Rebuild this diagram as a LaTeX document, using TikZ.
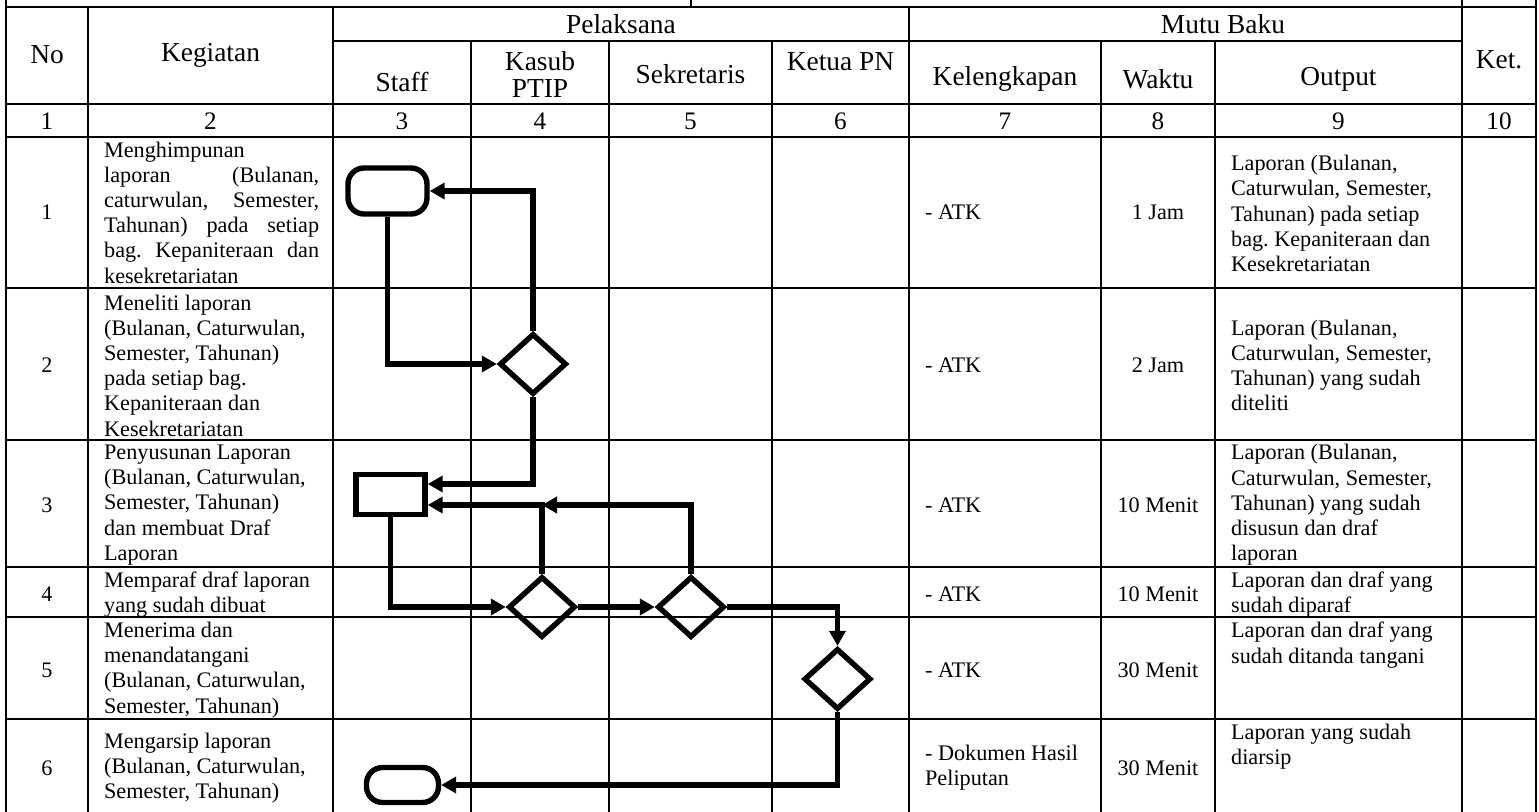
\documentclass[tikz,border=0pt]{standalone}
\usepackage{fontspec}
\setmainfont{Liberation Serif}
\usetikzlibrary{arrows.meta, positioning, shapes.geometric, calc}
\frenchspacing

\begin{document}
\begin{tikzpicture}[
    x=0.5pt, y=-0.5pt, line width=1.15pt,
    font=\fontsize{11.1pt}{12.6pt}\selectfont,
    hdr/.style={font=\fontsize{13.7pt}{13.5pt}\selectfont, align=center, inner sep=0pt},
    colnum/.style={font=\fontsize{12.6pt}{13pt}\selectfont, inner sep=0pt},
    txt/.style={anchor=west, align=left, inner sep=0pt},
    flow/.style={line width=2.7pt, -{Triangle[length=7.5pt,width=8pt]}},
    term/.style={draw, line width=2.7pt, rounded corners=8pt, inner sep=0pt},
    proc/.style={draw, line width=2.7pt, inner sep=0pt},
    dec/.style={draw, diamond, line width=2.7pt, inner sep=0pt,
                minimum width=33.5pt, minimum height=30.5pt}
]
\useasboundingbox (0,0) rectangle (1539,812);

% Grid lines
\draw (6,7) -- (1536,7);
\draw (333,41) -- (1462,41);
\foreach \y in {104,137,288,440,567,617,719}
   \draw (6,\y) -- (1536,\y);
\draw (691,0) -- (691,7);
\foreach \x in {6,1462,1536}
   \draw (\x,0) -- (\x,812);
\foreach \x in {88,333,909}
   \draw (\x,7) -- (\x,812);
\foreach \x in {471,609,772,1101,1215}
   \draw (\x,41) -- (\x,812);

% Column headers
\node[hdr] (hNo) at (47,55) {No};
\node[hdr] (hKeg) at (210.5,55) {Kegiatan};
\node[hdr] (hPel) at (621,24) {Pelaksana};
\node[hdr] (hMutu) at (1223,24) {Mutu Baku};
\foreach \x/\y/\n/\lbl in {402/82/Staff/Staff, 540/75/Kasub/{Kasub\\PTIP},
                          690.5/74/Sekr/Sekretaris, 840.5/62/Ketua/{Ketua PN},
                          1005/79/Kel/Kelengkapan, 1158/79/Wkt/Waktu,
                          1338.5/79/Out/Output, 1499/60/Ket/Ket.} {
   \node[hdr] (h\n) at (\x,\y) {\lbl};
}
% Column numbers
\foreach \i/\x in {1/47, 2/210.5, 3/402, 4/540, 5/690.5, 6/840.5,
                   7/1005, 8/1158, 9/1338.5, 10/1499} {
   \node[colnum] (n\i) at (\x,121) {\i};
}

% Rows
\foreach \i/\y/\yo/\keg/\kel/\wkt/\out in {
  1/212.5/213.5/{Menghimpunan\\
     \makebox[107.5pt][s]{laporan (Bulanan,}\\
     \makebox[107.5pt][s]{caturwulan, Semester,}\\
     \makebox[107.5pt][s]{Tahunan) pada setiap}\\
     \makebox[107.5pt][s]{bag. Kepaniteraan dan}\\
     kesekretariatan}/{- ATK}/{1 Jam}/{Laporan (Bulanan,\\Caturwulan, Semester,\\Tahunan) pada setiap\\bag. Kepaniteraan dan\\Kesekretariatan},
  2/365.5/365.5/{Meneliti laporan\\(Bulanan, Caturwulan,\\Semester, Tahunan)\\pada setiap bag.\\Kepaniteraan dan\\Kesekretariatan}/{- ATK}/{2 Jam}/{Laporan (Bulanan,\\Caturwulan, Semester,\\Tahunan) yang sudah\\diteliti},
  3/505/505/{Penyusunan Laporan\\(Bulanan, Caturwulan,\\Semester, Tahunan)\\dan membuat Draf\\Laporan}/{- ATK}/{10 Menit}/{Laporan (Bulanan,\\Caturwulan, Semester,\\Tahunan) yang sudah\\disusun dan draf\\laporan},
  4/594.5/594.5/{Memparaf draf laporan\\yang sudah dibuat}/{- ATK}/{10 Menit}/{Laporan dan draf yang\\sudah diparaf},
  5/670/645/{Menerima dan\\menandatangani\\(Bulanan, Caturwulan,\\Semester, Tahunan)}/{- ATK}/{30 Menit}/{Laporan dan draf yang\\sudah ditanda tangani},
  6/768/746.5/{Mengarsip laporan\\(Bulanan, Caturwulan,\\Semester, Tahunan)}/{- Dokumen Hasil\\Peliputan}/{30 Menit}/{Laporan yang sudah\\diarsip}} {
   \node[inner sep=0pt] (no\i) at (47,\y) {\i};
   \node[txt] (keg\i) at (103,\y) {\keg};
   \node[txt] (kel\i) at (924,\y) {\kel};
   \node[inner sep=0pt] (wkt\i) at (1158,\y) {\wkt};
   \node[txt] (out\i) at (1230,\yo) {\out};
}

% Flow shapes
\node[term, minimum width=39.5pt, minimum height=23pt] (t1) at (387.5,191) {};
\node[dec] (d1) at (533,364) {};
\node[proc, minimum width=34.5pt, minimum height=20pt] (p1) at (390.5,494.5) {};
\node[dec] (d2) at (542,607) {};
\node[dec] (d3) at (691,607) {};
\node[dec] (d4) at (837.5,679) {};
\node[term, minimum width=36pt, minimum height=17.5pt] (t2) at (402.5,785) {};
\coordinate (p1hi) at ([yshift=5.25pt]p1.east);
\coordinate (p1lo) at ([yshift=-5.25pt]p1.east);

% Flow connectors
\draw[flow] (d1.north) |- (t1.east);
\draw[flow] (t1.south) |- (d1.west);
\draw[flow] (d1.south) |- (p1hi);
\draw[flow] (d2.north) |- (p1lo);
\draw[flow] (d3.north) |- (d2.north |- p1lo);
\draw[flow] (p1.south) |- (d2.west);
\draw[flow] (d2.east) -- (d3.west);
\draw[flow] (d3.east) -| (d4.north);
\draw[flow] (d4.south) |- (t2.east);
\end{tikzpicture}
\end{document}
